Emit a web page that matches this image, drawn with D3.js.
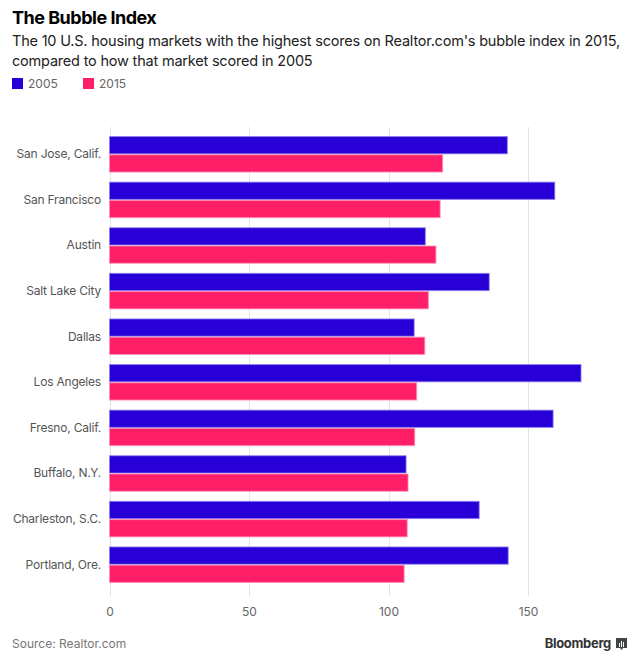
<!DOCTYPE html>
<html>
<head>
<meta charset="utf-8">
<script src="https://cdn.jsdelivr.net/npm/d3@7"></script>
<style>
html,body{margin:0;padding:0;background:#fff;}
svg{display:block;font-family:"Inter","Roboto",sans-serif;}
</style>
</head>
<body>
<svg id="chart" width="640" height="663"></svg>
<script>
const categories = ["San Jose, Calif.","San Francisco","Austin","Salt Lake City","Dallas","Los Angeles","Fresno, Calif.","Buffalo, N.Y.","Charleston, S.C.","Portland, Ore."];
const values2005 = [142.6,159.6,113.2,136.1,109.2,169.0,159.0,106.3,132.5,142.9];
const values2015 = [119.4,118.5,117.0,114.3,113.0,110.1,109.4,107.0,106.7,105.6];
const seriesNames = ["2005","2015"];
const seriesColors = ["#2800d7","#ff1f68"];
const tickValues = [0,50,100,150];

const svg = d3.select("#chart");

// Title & subtitle
svg.append("text").attr("x",12).attr("y",24).text("The Bubble Index")
  .attr("font-size",18).attr("font-weight",700).attr("fill","#000").attr("letter-spacing","-0.5");
const sub = ["The 10 U.S. housing markets with the highest scores on Realtor.com's bubble index in 2015,","compared to how that market scored in 2005"];
sub.forEach((s,i)=>svg.append("text").attr("x",12).attr("y",46+i*20).text(s)
  .attr("font-size",14.5).attr("fill","#222").attr("letter-spacing","-0.2"));

// Legend
const legX = [12,83];
seriesNames.forEach((n,i)=>{
  svg.append("rect").attr("x",legX[i]).attr("y",78).attr("width",11).attr("height",11).attr("fill",seriesColors[i]);
  svg.append("text").attr("x",legX[i]+16).attr("y",88).text(n).attr("font-size",12).attr("fill","#666");
});

// Scales
const x = d3.scaleLinear().domain([0,150]).range([109.5,528]);
const y = d3.scaleBand().domain(categories).range([131.5,587.5]).paddingInner(0.2).paddingOuter(0.1);
const y1 = d3.scaleBand().domain(seriesNames).range([0,y.bandwidth()]);

// Grid
const g = svg.append("g");
g.selectAll("line.grid").data(tickValues).join("line").attr("class","grid")
  .attr("x1",d=>Math.round(x(d))+0.5).attr("x2",d=>Math.round(x(d))+0.5)
  .attr("y1",127).attr("y2",596).attr("stroke","#e4e4e8").attr("stroke-width",1);

// Axis labels
const xAxis = d3.axisBottom(x).tickValues(tickValues).tickSize(0).tickPadding(0);
const ax = svg.append("g").attr("transform","translate(0,616)").call(xAxis);
ax.select(".domain").remove();
ax.selectAll("text").attr("font-size",12).attr("fill","#666").attr("font-family","Inter, Roboto, sans-serif").attr("dy","0");

// Y labels
const yAxis = d3.axisLeft(y).tickSize(0).tickPadding(0);
const ay = svg.append("g").attr("transform","translate(101,0)").call(yAxis);
ay.select(".domain").remove();
ay.selectAll("text").attr("font-size",12).attr("fill","#555").attr("font-family","Inter, Roboto, sans-serif").attr("letter-spacing","-0.2");

// Bars
const data = categories.map((c,i)=>({c, v:[values2005[i],values2015[i]]}));
const groups = svg.append("g").selectAll("g").data(data).join("g")
  .attr("transform",d=>`translate(0,${y(d.c)})`);
groups.selectAll("rect").data(d=>d.v.map((v,i)=>({v,s:seriesNames[i],i}))).join("rect")
  .attr("x",x(0)).attr("y",d=>y1(d.s)+0.5).attr("width",d=>x(d.v)-x(0)).attr("height",y1.bandwidth()-1)
  .attr("fill",d=>seriesColors[d.i])
  .attr("stroke",d=>d.i===0?"#8a7cf0":"#ff8db0").attr("stroke-width",1).attr("stroke-opacity",0.8);

// Footer
svg.append("text").attr("x",12).attr("y",648).text("Source: Realtor.com").attr("font-size",12).attr("fill","#777");
svg.append("text").attr("x",611).attr("y",648).attr("text-anchor","end").text("Bloomberg")
  .attr("font-size",13).attr("font-weight",700).attr("fill","#333").attr("letter-spacing","-0.3");
// logo icon
const lg = svg.append("g").attr("transform","translate(616,638)");
lg.append("path").attr("d","M0,0 H11 V10 H7 L5.5,12 L4,10 H0 Z").attr("fill","#444");
[[3,5,1],[5,3,1],[7,4,1]].forEach(([xx,yy,w])=>lg.append("rect").attr("x",xx).attr("y",yy).attr("width",w).attr("height",9-yy).attr("fill","#fff"));
</script>
</body>
</html>
